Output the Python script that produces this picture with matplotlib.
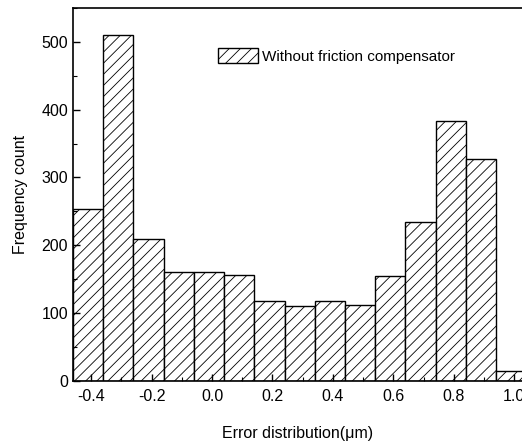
import matplotlib
matplotlib.use("Agg")
import matplotlib.pyplot as plt
from matplotlib.ticker import MultipleLocator

# bin left edges (um) and counts
bin_left = [-0.46, -0.36, -0.26, -0.16, -0.06, 0.04, 0.14, 0.24,
            0.34, 0.44, 0.54, 0.64, 0.74, 0.84, 0.94]
counts = [254, 510, 210, 161, 161, 156, 118, 110,
          118, 112, 155, 235, 383, 327, 15]
bin_width = 0.1
legend_label = "Without friction compensator"


def main():
    plt.rcParams["font.family"] = ["Liberation Sans", "DejaVu Sans"]
    plt.rcParams["hatch.linewidth"] = 0.6
    plt.rcParams["hatch.color"] = "#444444"

    fig = plt.figure(figsize=(5.22, 4.47), dpi=100)
    ax = fig.add_axes([0.140, 0.148, 0.860, 0.834])

    ax.bar(bin_left, counts, width=bin_width, align="edge",
           facecolor="white", edgecolor="black", linewidth=1.0,
           hatch="///", label=legend_label)

    ax.set_xlim(-0.46, 1.026)
    ax.set_ylim(0, 550)
    ax.xaxis.set_minor_locator(MultipleLocator(0.1))
    ax.yaxis.set_major_locator(MultipleLocator(100))
    ax.yaxis.set_minor_locator(MultipleLocator(50))
    ax.tick_params(which="both", direction="in", labelsize=11.5)
    ax.tick_params(which="major", length=5, width=1)
    ax.tick_params(which="minor", length=3, width=0.8)
    ax.set_xticks([-0.4, -0.2, 0.0, 0.2, 0.4, 0.6, 0.8, 1.0])
    ax.set_xticklabels(["-0.4", "-0.2", "0.0", "0.2", "0.4", "0.6", "0.8", "1.0"])
    ax.tick_params(axis="x", pad=6)
    ax.spines["right"].set_visible(False)
    for s in ("left", "bottom", "top"):
        ax.spines[s].set_linewidth(1.2)

    ax.set_xlabel("Error distribution(\u03bcm)", fontsize=11.5, labelpad=16)
    ax.set_ylabel("Frequency count", fontsize=11.5, labelpad=10)

    ax.legend(loc="center left", bbox_to_anchor=(0.323, 0.871),
              frameon=False, fontsize=11, borderpad=0, borderaxespad=0,
              handlelength=2.6, handleheight=1.1, handletextpad=0.25)

    fig.savefig("out.png", dpi=100)
    plt.close(fig)


if __name__ == "__main__":
    main()
